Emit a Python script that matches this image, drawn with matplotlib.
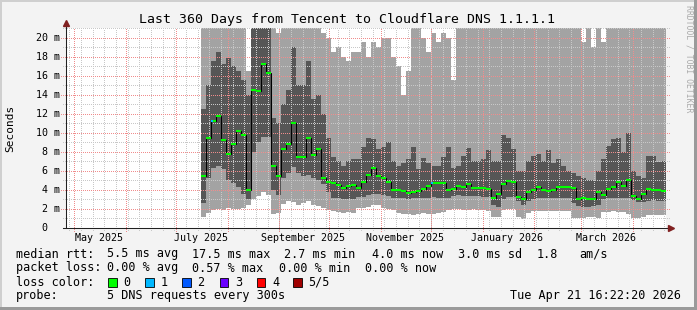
import numpy as np
import pandas as pd
import matplotlib
matplotlib.use("Agg")
import matplotlib.pyplot as plt
import matplotlib.dates as mdates
from matplotlib.patches import Rectangle
from datetime import datetime, timedelta

plt.rcParams['font.family'] = ['DejaVu Sans Mono']
plt.rcParams['lines.scale_dashes'] = False

W, H = 697, 310

# ----------------- data: one column every 3 days (ms) -----------------
end_time = datetime(2026, 4, 21, 16, 22, 20)
start_time = end_time - timedelta(days=360)
first_col = start_time + timedelta(days=81)
step_days = 3

# bottom of the smoke (lowest ping)
smoke_lo = [1.2, 1.6, 1.9, 2.0, 1.9, 2.1, 2.0, 2.0, 2.1, 2.4, 3.0, 3.4, 3.8, 3.5, 1.5,
            1.6, 2.5, 2.8, 2.7, 2.4, 2.6, 2.8, 2.4, 2.3, 2.1, 1.9, 1.8, 1.7, 1.6, 1.7, 1.6,
            2.1, 2.1, 2.2, 2.4, 2.4, 2.1, 2.0, 1.9, 1.6, 1.5, 1.5, 1.4, 1.5, 1.6, 1.5, 1.5,
            1.6, 1.7, 1.9, 2.0, 2.0, 1.9, 1.9, 2.0, 1.9, 1.9, 1.8, 1.2, 1.2, 1.9, 2.0, 2.0,
            1.2, 0.9, 1.6, 1.8, 1.8, 1.8, 1.8, 1.8, 1.8, 1.8, 1.8, 1.0, 1.1, 1.1, 1.2, 1.2,
            1.1, 1.7, 1.7, 1.8, 1.7, 1.7, 1.5, 1.1, 1.1, 1.2, 1.4, 1.4, 1.4, 1.4]
# dark band (middle pings)
dark_lo = [2.6, 5.2, 6.3, 6.5, 6.2, 5.0, 4.7, 4.3, 3.6, 3.0, 8.0, 9.0, 9.6, 9.6, 4.0,
           3.5, 5.3, 5.8, 6.4, 5.8, 5.5, 5.6, 5.2, 5.0, 4.6, 3.8, 3.2, 3.1, 3.0, 3.0, 3.0,
           3.3, 3.3, 3.5, 3.6, 3.6, 3.5, 3.4, 3.2, 3.1, 3.1, 3.0, 3.1, 3.1, 3.1, 3.2, 3.3,
           3.2, 3.1, 3.2, 3.4, 3.5, 3.4, 3.4, 3.4, 3.4, 3.3, 3.3, 2.4, 2.2, 3.0, 3.3, 3.3,
           2.8, 2.4, 2.8, 3.0, 3.1, 3.1, 3.1, 3.1, 3.2, 3.2, 3.2, 2.6, 2.3, 2.2, 2.2, 2.3,
           2.4, 3.0, 3.1, 3.2, 3.2, 3.1, 3.1, 2.9, 2.7, 2.7, 2.8, 2.9, 2.8, 2.8]
dark_hi = [12.5, 15.0, 17.5, 18.5, 17.2, 17.8, 17.0, 16.5, 15.5, 14.0, 21, 21, 21, 21, 11.5,
           11.0, 13.0, 14.5, 19.0, 15.0, 15.0, 17.5, 13.5, 14.0, 12.0, 9.5, 7.5, 7.0, 6.5, 7.0, 7.2,
           7.2, 8.5, 9.5, 9.3, 8.3, 8.5, 9.0, 7.0, 6.5, 6.8, 7.2, 8.5, 6.2, 7.4, 6.8, 6.5,
           6.5, 7.5, 8.5, 6.3, 6.5, 7.6, 8.4, 7.0, 7.0, 7.2, 8.2, 7.0, 7.0, 9.8, 9.5, 8.3,
           6.0, 6.0, 7.0, 7.6, 7.8, 7.0, 8.2, 6.8, 7.2, 6.5, 6.0, 5.8, 5.5, 5.2, 5.0, 5.0,
           6.0, 7.2, 8.6, 9.3, 9.5, 8.0, 10.0, 6.0, 5.5, 5.3, 7.6, 7.6, 6.9, 7.0]
# top of the smoke (highest ping, clipped at 21 m)
smoke_hi = [21, 21, 21, 21, 21, 21, 21, 21, 21, 16.5, 21, 21, 21, 21, 21,
            20.5, 21, 21, 21, 21, 21, 21, 21, 21, 20.5, 20, 18.5, 19, 18, 17.5, 18.5,
            18.5, 19.5, 18, 19.5, 19, 20, 20, 18, 17, 14, 16.5, 21, 21, 20, 18.5, 20.5,
            19.5, 20.5, 20, 15.5, 21, 21, 21, 21, 21, 21, 21, 21, 21, 21, 21, 21,
            21, 21, 21, 21, 21, 21, 21, 21, 21, 21, 21, 21, 21, 19.5, 21, 19,
            21, 19.5, 21, 21, 21, 21, 21, 21, 21, 21, 21, 21, 21, 21]
median = [5.5, 9.5, 11.2, 11.8, 9.2, 7.8, 8.8, 10.2, 9.8, 4.0, 14.5, 14.4, 17.2, 16.3, 6.5,
          5.5, 8.3, 8.8, 11.0, 7.5, 7.5, 9.5, 7.7, 8.3, 5.3, 4.8, 4.7, 4.5, 4.2, 4.4, 4.5,
          4.2, 4.8, 5.6, 6.3, 5.5, 5.2, 4.8, 4.0, 4.0, 3.9, 3.7, 3.8, 3.9, 4.1, 4.4, 4.7,
          4.7, 4.7, 4.0, 4.1, 4.4, 4.3, 4.6, 4.2, 4.2, 4.2, 4.1, 3.2, 3.6, 4.6, 4.9, 4.8,
          3.3, 3.0, 3.8, 4.0, 4.3, 4.0, 3.9, 4.0, 4.3, 4.3, 4.3, 4.2, 3.0, 3.1, 3.0, 3.0,
          3.8, 3.5, 4.1, 4.3, 4.8, 4.4, 5.0, 3.4, 3.0, 3.6, 4.1, 4.0, 4.0, 3.9]
# columns where one request was lost
loss_cols = [2, 46]

y_major = [0, 2, 4, 6, 8, 10, 12, 14, 16, 18, 20]
y_labels = ["0", "2 m", "4 m", "6 m", "8 m", "10 m", "12 m", "14 m", "16 m", "18 m", "20 m"]
y_minor = [1, 3, 5, 7, 9, 11, 13, 15, 17, 19, 21]
x_label_months = ["2025-05", "2025-07", "2025-09", "2025-11", "2026-01", "2026-03"]
x_label_text = ["May 2025", "July 2025", "September 2025", "November 2025", "January 2026", "March 2026"]

loss_names = ["0", "1", "2", "3", "4", "5/5"]
loss_colors = ["#00ff00", "#00b8ff", "#0059ff", "#6a00ff", "#ff0000", "#a00000"]

# ----------------- figure -----------------
fig = plt.figure(figsize=(W / 100, H / 100), dpi=100)
fig.patch.set_facecolor("#f3f3f3")

def fx(x):
    return x / W

def fy(y):
    return 1 - y / H

ax = fig.add_axes([fx(66), fy(228), 600 / W, 200 / H])
ax.set_facecolor("white")
for s in ax.spines.values():
    s.set_visible(False)

edges = mdates.date2num(pd.date_range(first_col, periods=len(median) + 1, freq=f"{step_days}D"))
ax.stairs(smoke_hi, edges, baseline=smoke_lo, fill=True, color="#a3a3a3", lw=0, antialiased=False, zorder=1)
ax.stairs(dark_hi, edges, baseline=dark_lo, fill=True, color="#565656", lw=0, antialiased=False, zorder=2)
ax.stairs(median, edges, baseline=None, color="black", lw=0.75, zorder=5)
ax.hlines(median, edges[:-1], edges[1:], colors=loss_colors[0], lw=1.5, zorder=6)
for c in loss_cols:
    ax.hlines(median[c], edges[c], edges[c] + 1.2, colors=loss_colors[1], lw=1.5, zorder=7)

ax.set_xlim(mdates.date2num(start_time), mdates.date2num(end_time))
ax.set_ylim(0, 21)

# grid (dotted, drawn on top like rrdtool)
grid_col = "#c8c8c8"
mgrid_col = "#f08c8c"
ytr = ax.get_yaxis_transform()
xtr = ax.get_xaxis_transform()
weeks = mdates.date2num(pd.date_range(start_time, end_time, freq="W-MON"))
months = mdates.date2num(pd.date_range(start_time, end_time, freq="MS"))

def dotted(xs, ys, col, tr):
    ln, = ax.plot(xs, ys, color=col, lw=0.72, transform=tr, clip_on=False, zorder=4,
                  dashes=(0.72, 1.44), antialiased=False, solid_capstyle="butt", dash_capstyle="butt")
    return ln

for w in weeks:
    dotted([w, w], [-0.012, 1], grid_col, xtr)
for v in y_minor:
    dotted([-0.005, 1.006], [v, v], grid_col, ytr)
for m in months:
    dotted([m, m], [-0.015, 1], mgrid_col, xtr)
for v in y_major[1:]:
    dotted([-0.008, 1.006], [v, v], mgrid_col, ytr)

# axes with arrows
ax.plot([-0.005, 1.004], [0, 0], transform=ax.transAxes, color="#202020", lw=0.75, clip_on=False, zorder=8)
ax.plot([0, 0], [0, 1.02], transform=ax.transAxes, color="#202020", lw=0.75, clip_on=False, zorder=8)
ax.plot([1.008], [0], marker=">", ms=4.5, color="#802020", transform=ax.transAxes, clip_on=False, zorder=9)
ax.plot([0], [1.024], marker="^", ms=4.5, color="#802020", transform=ax.transAxes, clip_on=False, zorder=9)

# tick labels
ax.set_yticks([])
for v, lab in zip(y_major, y_labels):
    xoff = -19 / 600 if lab == "0" else -6 / 600
    ax.text(xoff, v, lab, transform=ytr, ha="right", va="center", fontsize=7.2)

mid = []
for m in x_label_months:
    a = pd.Timestamp(m + "-01")
    b = a + pd.offsets.MonthBegin(1)
    mid.append(mdates.date2num(a + (b - a) / 2))
ax.set_xticks(mid)
ax.set_xticklabels(x_label_text, fontsize=7.2)
ax.tick_params(axis="x", length=0, pad=3.5)

# titles
fig.text(fx(347), fy(19), "Last 360 Days from Tencent to Cloudflare DNS 1.1.1.1", ha="center", va="center", fontsize=9.5)
fig.text(fx(10), fy(128), "Seconds", rotation=90, ha="center", va="center", fontsize=8)
fig.text(fx(688.5), fy(59), "RRDTOOL / TOBI OETIKER", rotation=270, ha="center", va="center", fontsize=5.9, color="#aaaaaa")

# legend
fs = 8.5
rows = [
    [(16, "median rtt:"), (107, "5.5 ms avg"), (192, "17.5 ms max"), (284, "2.7 ms min"),
     (372, "4.0 ms now"), (458, "3.0 ms sd"), (537, "1.8"), (579, "am/s")],
    [(16, "packet loss:"), (107, "0.00 % avg"), (192, "0.57 % max"), (279, "0.00 % min"), (365, "0.00 % now")],
    [(16, "loss color:")],
    [(16, "probe:"), (107, "5 DNS requests every 300s")],
]
row_y = [254, 268, 282, 296]
for yy, row in zip(row_y, rows):
    for xx, t in row:
        fig.text(fx(xx), fy(yy), t, ha="left", va="center", fontsize=fs)
fig.text(fx(681), fy(296), "Tue Apr 21 16:22:20 2026", ha="right", va="center", fontsize=fs)

sq_x = [108, 145, 182, 219.5, 256.5, 293]
for xx, name, col in zip(sq_x, loss_names, loss_colors):
    fig.add_artist(Rectangle((fx(xx), fy(286.5)), 8.5 / W, 8.5 / H, facecolor=col,
                             edgecolor="black", lw=0.6, transform=fig.transFigure))
    fig.text(fx(xx + 15.5), fy(282), name, ha="left", va="center", fontsize=fs)

# 3d frame
fig.add_artist(Rectangle((0, fy(2)), 1, 2 / H, color="#cfcfcf", transform=fig.transFigure, lw=0))
fig.add_artist(Rectangle((0, 0), 2 / W, 1, color="#cfcfcf", transform=fig.transFigure, lw=0))
fig.add_artist(Rectangle((fx(694), 0), 3 / W, 1, color="#9a9a9a", transform=fig.transFigure, lw=0))
fig.add_artist(Rectangle((0, 0), 1, 3 / H, color="#9a9a9a", transform=fig.transFigure, lw=0))

fig.savefig("out.png", dpi=100, facecolor=fig.get_facecolor())
